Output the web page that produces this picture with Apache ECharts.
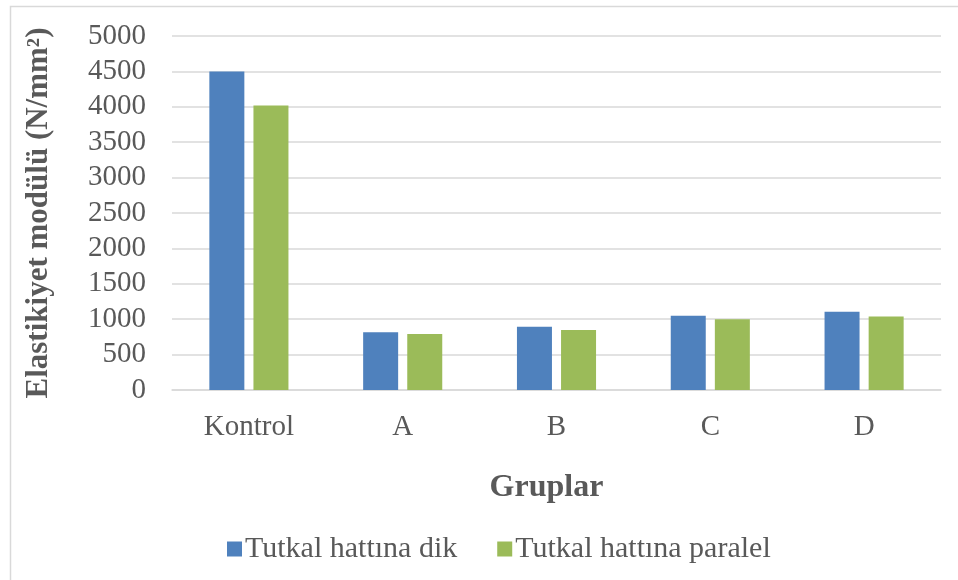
<!DOCTYPE html>
<html>
<head>
<meta charset="utf-8">
<script src="https://cdn.jsdelivr.net/npm/echarts@6/dist/echarts.min.js"></script>
<style>
html,body{margin:0;padding:0;background:#fff;}
#chart{width:958px;height:580px;}
</style>
</head>
<body>
<div id="chart"></div>
<script>
const categories = ['Kontrol', 'A', 'B', 'C', 'D'];
const seriesNames = ['Tutkal hattına dik', 'Tutkal hattına paralel'];
const dikValues = [4500, 815, 895, 1050, 1105];
const paralelValues = [4020, 792, 849, 1000, 1038];
const yAxisTitle = 'Elastikiyet modülü (N/mm²)';
const xAxisTitle = 'Gruplar';

const FONT = '"Liberation Serif", "Times New Roman", serif';
const TEXT = '#595959';

const chart = echarts.init(document.getElementById('chart'));
chart.setOption({
  backgroundColor: '#ffffff',
  animation: false,
  graphic: [{
    type: 'rect',
    shape: { x: 10.5, y: 6.5, width: 1000, height: 700 },
    style: { fill: 'none', stroke: '#d9d9d9', lineWidth: 1.5 },
    silent: true
  }],
  grid: { left: 172, right: 17, top: 36, bottom: 190, containLabel: false },
  legend: {
    data: seriesNames,
    left: 222,
    top: 529,
    itemWidth: 15,
    itemHeight: 15,
    itemGap: 40,
    icon: 'rect',
    textStyle: { fontFamily: FONT, fontSize: 30, color: TEXT, padding: [0, 0, 0, -2] }
  },
  xAxis: {
    type: 'category',
    data: categories,
    name: xAxisTitle,
    nameLocation: 'middle',
    nameGap: 82,
    nameTextStyle: { fontFamily: FONT, fontSize: 32, fontWeight: 'bold', color: TEXT, padding: [0, 20, 0, 0] },
    axisLine: { lineStyle: { color: '#d9d9d9', width: 1.5 } },
    axisTick: { show: false },
    axisLabel: { fontFamily: FONT, fontSize: 29, color: TEXT, margin: 23 }
  },
  yAxis: {
    type: 'value',
    min: 0,
    max: 5000,
    interval: 500,
    name: yAxisTitle,
    nameLocation: 'middle',
    nameGap: 118,
    nameTextStyle: { fontFamily: FONT, fontSize: 31, fontWeight: 'bold', color: TEXT },
    axisLine: { show: false },
    axisTick: { show: false },
    axisLabel: { fontFamily: FONT, fontSize: 29, color: TEXT, margin: 26, formatter: v => String(v) },
    splitLine: { lineStyle: { color: '#d9d9d9', width: 1.5 } }
  },
  series: [
    {
      name: seriesNames[0],
      type: 'bar',
      data: dikValues,
      barWidth: 35,
      barGap: '26%',
      itemStyle: { color: '#4f81bd' }
    },
    {
      name: seriesNames[1],
      type: 'bar',
      data: paralelValues,
      barWidth: 35,
      itemStyle: { color: '#9bbb59' }
    }
  ]
});
</script>
</body>
</html>
